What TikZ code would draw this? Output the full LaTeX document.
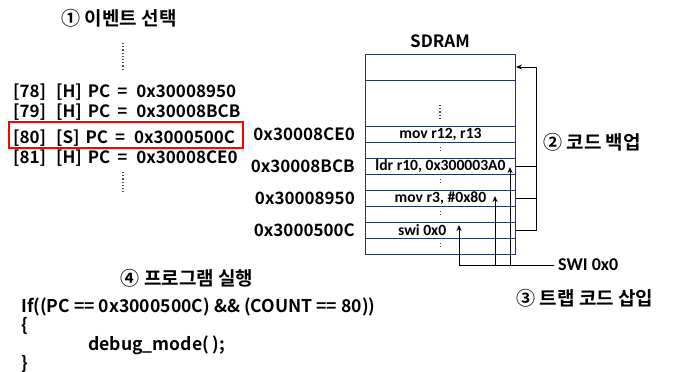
\documentclass[tikz,border=0pt]{standalone}
\usepackage{fontspec}
\setmainfont{Noto Sans CJK KR}[BoldFont={Noto Sans CJK KR Bold}]
\newfontfamily\memfont{Carlito}[BoldFont={Carlito Bold}]
\usetikzlibrary{arrows.meta,positioning}
\definecolor{boxblue}{RGB}{31,56,100}

\begin{document}
\begin{tikzpicture}[x=1pt, y=-1pt,
    every node/.style={font=\bfseries\fontsize{17}{19}\selectfont, inner sep=0pt},
    heading/.style={font=\bfseries\fontsize{19}{21}\selectfont},
    codeline/.style={anchor=base west, font=\bfseries\fontsize{17.6}{19}\selectfont},
    memrow/.style={draw=boxblue, line width=1pt, minimum width=150pt},
    memtext/.style={font=\memfont\bfseries\fontsize{15.6}{16}\selectfont},
    dotline/.style={dotted, line width=1.2pt, gray!60!black},
    link/.style={line width=1pt},
    tip/.style={-{Stealth[length=6pt,width=5pt]}}]
    \useasboundingbox (0,0) rectangle (675,372);

    % Headings
    \node[heading] (h1) at (119,18) {① 이벤트 선택};
    \node[heading] (h2) at (592,142) {② 코드 백업};
    \node[heading] (h3) at (585,298) {③ 트랩 코드 삽입};
    \node[heading] (h4) at (187,278) {④ 프로그램 실행};

    % Event list
    \draw[dotline] (123,43) -- (123,70);
    \foreach \y/\n/\t/\pc in {97/78/H/0x30008950, 117/79/H/0x30008BCB, 143/80/S/0x3000500C, 163/81/H/0x30008CE0} {
        \node[anchor=base west] (ev\n) at (13,\y) {[\n]\hspace{10pt}[\t]\hspace{6pt}PC\hspace{7pt}=\hspace{9pt}\pc};
    }
    \draw[dotline] (123,172) -- (123,192);
    \node[draw=red, line width=1.5pt, minimum width=234pt, minimum height=26pt, anchor=north west] (sel) at (8,121) {};

    % SDRAM
    \node (sdram) at (440,41) {SDRAM};
    \node[memrow, minimum height=26pt] (m0) at (440.5,67) {};
    \node[memrow, minimum height=46pt] (mgap) at (440.5,103) {};
    \draw[dotline] (440,105) -- (440,120);
    \foreach \i in {1,...,8} {
        \node[memrow, minimum height=16pt] (m\i) at (440.5,118+16*\i) {};
    }
    \foreach \i in {2,4,6,8} {
        \draw[dotline] (m\i.center) ++(0,-3) -- ++(0,6);
    }
    \node[memtext] at (m1) {mov r12, r13};
    \node[memtext] at (m3) {ldr r10, 0x300003A0};
    \node[memtext] at (m5) {mov r3, \#0x80};
    \node[memtext, right=33pt of m7.west] {swi 0x0};

    % Addresses
    \foreach \i/\addr in {1/0x30008CE0, 3/0x30008BCB, 5/0x30008950, 7/0x3000500C} {
        \node[left=10pt of m\i] (a\i) {\addr};
    }

    % Code backup
    \coordinate (bk) at (536,0);
    \draw[link] (m3.east) -- (m3.east -| bk);
    \draw[link] (m5.east) -- (m5.east -| bk);
    \draw[link, tip] (m7.east) -- (m7.east -| bk) |- (m0.east);

    % Trap code
    \node[font=\memfont\bfseries\fontsize{18}{20}\selectfont, inner xsep=4pt, anchor=west] (swi) at (554,265) {SWI 0x0};
    \coordinate (tswi) at (459,225);
    \coordinate (tmov) at (495,196);
    \coordinate (tldr) at (510,167);
    \foreach \t in {tswi, tmov, tldr} {
        \draw[link, tip] (swi.west) -| (\t);
    }

    % Program
    \node[codeline] (c1) at (21,312) {If((PC == 0x3000500C) \&\& (COUNT == 80))};
    \node[codeline] (c2) at (21,331) {\{};
    \node[codeline] (c3) at (88,350) {debug\_mode( );};
    \node[codeline] (c4) at (21,369) {\}};

\end{tikzpicture}
\end{document}
